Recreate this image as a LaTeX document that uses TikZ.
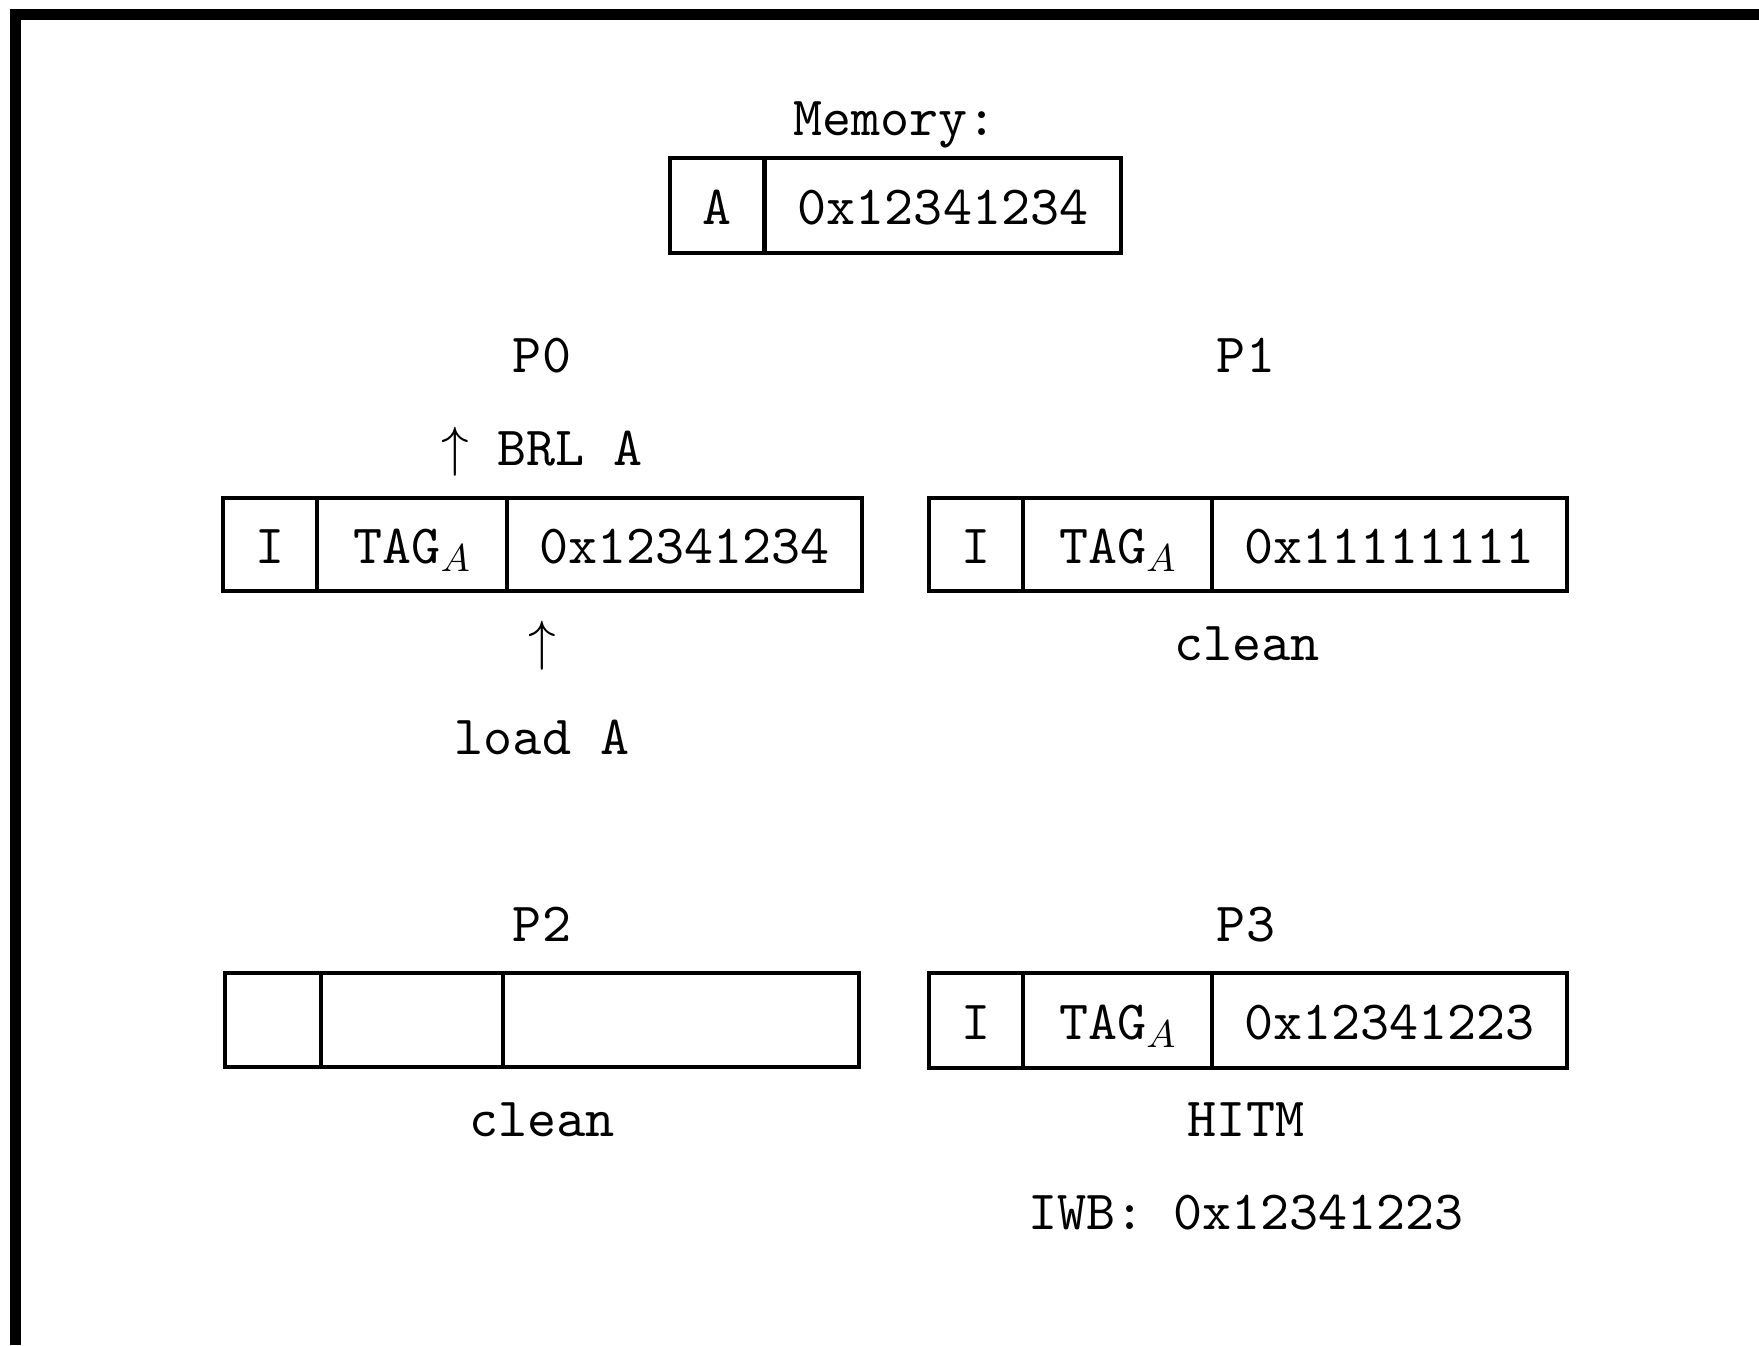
\documentclass[tikz,border=0pt]{standalone}
\DeclareFontShape{OML}{cmm}{m}{it}{<->cmmi10}{}
\DeclareFontShape{OMS}{cmsy}{m}{n}{<->cmsy10}{}
\DeclareFontFamily{OT1}{cmtt}{\hyphenchar\font=-1}
\DeclareFontShape{OT1}{cmtt}{m}{n}{<->cmtt10}{}
\newcommand{\tttext}{\fontencoding{OT1}\fontfamily{cmtt}\fontsize{55.3}{66}\selectfont}
\begin{document}
\begin{tikzpicture}[x=1pt,y=-1pt,
  every node/.style={font=\tttext},
  cell/.style={draw, line width=4pt, rectangle, inner sep=0pt, text height=38pt, text depth=0pt},
  lbl/.style={anchor=base, inner sep=0pt},
  frame/.style={fill=black, draw=none}]
\useasboundingbox (0,0) rectangle (1759,1345);
% page frame
\fill[frame] (10,9) rectangle (1759,20);
\fill[frame] (10,9) rectangle (21,1345);
% Memory
\node[lbl] (memlbl) at (895,135) {Memory:};
\node[cell, minimum width=94pt, minimum height=95pt] (mema) at (717,205.5) {A};
\node[cell, minimum width=356pt, minimum height=95pt] (memv) at (943,205.5) {0x12341234};
% P0
\node[lbl] (p0) at (542,372) {P0};
\node[lbl] (brl) at (542,465) {$\uparrow$ BRL A};
\node[cell, minimum width=94pt, minimum height=93pt] (p0s) at (270,544.5) {I};
\node[cell, minimum width=190pt, minimum height=93pt] (p0t) at (412,544.5) {TAG$_A$};
\node[cell, minimum width=355pt, minimum height=93pt] (p0v) at (684.5,544.5) {0x12341234};
\node[lbl] (up) at (542,659) {$\uparrow$};
\node[lbl] (load) at (542,754) {load A};
% P1
\node[lbl] (p1) at (1246,372) {P1};
\node[cell, minimum width=94pt, minimum height=93pt] (p1s) at (976,544.5) {I};
\node[cell, minimum width=189pt, minimum height=93pt] (p1t) at (1117.5,544.5) {TAG$_A$};
\node[cell, minimum width=355pt, minimum height=93pt] (p1v) at (1389.5,544.5) {0x11111111};
\node[lbl] (p1st) at (1247,660) {clean};
% P2
\node[lbl] (p2) at (542,941) {P2};
\node[cell, minimum width=96pt, minimum height=94pt] (p2s) at (273,1020) {};
\node[cell, minimum width=182pt, minimum height=94pt] (p2t) at (412,1020) {};
\node[cell, minimum width=356pt, minimum height=94pt] (p2v) at (681,1020) {};
\node[lbl] (p2st) at (542,1136) {clean};
% P3
\node[lbl] (p3) at (1246,941) {P3};
\node[cell, minimum width=94pt, minimum height=95pt] (p3s) at (976,1020.5) {I};
\node[cell, minimum width=189pt, minimum height=95pt] (p3t) at (1117.5,1020.5) {TAG$_A$};
\node[cell, minimum width=355pt, minimum height=95pt] (p3v) at (1389.5,1020.5) {0x12341223};
\node[lbl] (p3st) at (1246,1136) {HITM};
\node[lbl] (iwb) at (1246,1229) {IWB: 0x12341223};
\end{tikzpicture}
\end{document}
